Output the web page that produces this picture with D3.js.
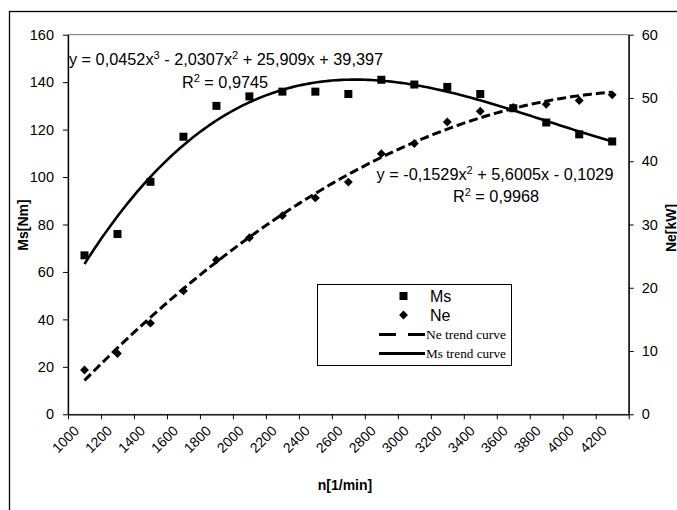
<!DOCTYPE html>
<html>
<head>
<meta charset="utf-8">
<script src="https://cdn.jsdelivr.net/npm/d3@7"></script>
<style>
  body { margin: 0; background: #fff; }
  text { font-family: "Liberation Sans", Arial, sans-serif; fill: #000; }
</style>
</head>
<body>
<div id="chart"></div>
<script>
// categories on the x axis (n, 1/min)
const nLabels = [1000, 1200, 1400, 1600, 1800, 2000, 2200, 2400, 2600, 2800, 3000, 3200, 3400, 3600, 3800, 4000, 4200];
// measured torque Ms [Nm], left axis
const msValues = [67, 76, 98, 117, 130, 134, 136, 136, 135, 141, 139, 138, 135, 129, 123, 118, 115];
// measured power Ne [kW], right axis
const neValues = [7.0, 9.6, 14.4, 19.5, 24.4, 27.9, 31.4, 34.2, 36.7, 41.2, 42.8, 46.2, 47.9, 48.5, 49.0, 49.6, 50.5];
// trend curve coefficients as printed on the chart (x = point index 1..17)
const msTrendCoef = [0.0452, -2.0307, 25.909, 39.397];
const neTrendCoef = [-0.1529, 5.6005, -0.1029];
const leftTicks = [0, 20, 40, 60, 80, 100, 120, 140, 160];
const rightTicks = [0, 10, 20, 30, 40, 50, 60];

const width = 677, height = 510;
const plot = {left: 68, right: 628.7, top: 34.7, bottom: 414.3};

let svg = d3.select("#chart")
    .append("svg")
    .attr("width", width)
    .attr("height", height);

// outer chart frame (runs past the picture on the right and bottom)
svg.append("rect")
    .attr("x", 9.5).attr("y", 11.5)
    .attr("width", 720).attr("height", 530)
    .attr("fill", "none").attr("stroke", "#000").attr("stroke-width", 1.3);

// plot area border
svg.append("rect")
    .attr("x", plot.left).attr("y", plot.top)
    .attr("width", plot.right - plot.left).attr("height", plot.bottom - plot.top)
    .attr("fill", "none").attr("stroke", "#555").attr("stroke-width", 0.8);

let x = d3.scaleLinear().domain([0, nLabels.length]).range([plot.left, plot.right]);
let yL = d3.scaleLinear().domain([0, 160]).range([plot.bottom, plot.top]);
let yR = d3.scaleLinear().domain([0, 60]).range([plot.bottom, plot.top]);

// x axis
let xAxis = svg.append("g")
    .attr("transform", `translate(0, ${plot.bottom})`)
    .call(d3.axisBottom(x)
        .tickValues(d3.range(0, nLabels.length + 1))
        .tickSize(5).tickSizeOuter(0)
        .tickFormat(i => i < nLabels.length ? nLabels[i] : ""));
xAxis.selectAll("text")
    .attr("text-anchor", "end")
    .attr("transform", "translate(8, 14) rotate(-45)")
    .attr("dy", "0.35em").attr("y", 0).attr("x", 0)
    .style("font-size", "14px");

// left axis
svg.append("g")
    .attr("transform", `translate(${plot.left}, 0)`)
    .call(d3.axisLeft(yL).tickValues(leftTicks).tickSize(5).tickSizeOuter(0).tickPadding(9))
    .selectAll("text").style("font-size", "14.5px");

// right axis
svg.append("g")
    .attr("transform", `translate(${plot.right}, 0)`)
    .call(d3.axisRight(yR).tickValues(rightTicks).tickSize(5).tickSizeOuter(0).tickPadding(8))
    .selectAll("text").style("font-size", "14.5px");

svg.selectAll(".domain").attr("stroke", "#000").attr("stroke-width", 1.3);
svg.selectAll(".tick line").attr("stroke", "#000").attr("stroke-width", 1);

// trend curves, drawn from the printed equations between the first and last point
function poly(coef, t) {
    return coef.reduce((acc, c) => acc * t + c, 0);
}
let tSteps = d3.range(1, nLabels.length + 0.001, 0.1);

svg.append("path")
    .datum(tSteps)
    .attr("fill", "none").attr("stroke", "#000").attr("stroke-width", 2.6)
    .attr("d", d3.line().x(t => x(t - 0.5)).y(t => yL(poly(msTrendCoef, t))));

svg.append("path")
    .datum(tSteps)
    .attr("fill", "none").attr("stroke", "#000").attr("stroke-width", 3)
    .attr("stroke-dasharray", "9,4")
    .attr("d", d3.line().x(t => x(t - 0.5)).y(t => yR(poly(neTrendCoef, t))));

// markers
svg.append("g").selectAll("rect")
    .data(msValues)
    .enter()
    .append("rect")
    .attr("x", (d, i) => x(i + 0.5) - 4)
    .attr("y", d => yL(d) - 4)
    .attr("width", 8).attr("height", 8)
    .attr("fill", "#000");

let diamond = d3.symbol().type(d3.symbolDiamond2).size(50);
svg.append("g").selectAll("path")
    .data(neValues)
    .enter()
    .append("path")
    .attr("d", diamond)
    .attr("transform", (d, i) => `translate(${x(i + 0.5)}, ${yR(d)})`)
    .attr("fill", "#000");

// equations (centered over their R² lines)
function equation(cx, cy, parts) {
    let t = svg.append("text").attr("x", cx).attr("y", cy)
        .attr("text-anchor", "middle").style("font-size", "16.3px");
    parts.forEach(p => {
        if (p.sup) t.append("tspan").attr("dy", -6).style("font-size", "11px").text(p.sup);
        else t.append("tspan").attr("dy", p.after ? 6 : 0).text(p.txt);
    });
}
equation(226, 65, [{txt: "y = 0,0452x"}, {sup: "3"}, {txt: " - 2,0307x", after: true}, {sup: "2"},
    {txt: " + 25,909x + 39,397", after: true}]);
equation(225, 88, [{txt: "R"}, {sup: "2"}, {txt: " = 0,9745", after: true}]);
equation(495, 180, [{txt: "y = -0,1529x"}, {sup: "2"}, {txt: " + 5,6005x - 0,1029", after: true}]);
equation(496, 202, [{txt: "R"}, {sup: "2"}, {txt: " = 0,9968", after: true}]);

// axis titles
svg.append("text")
    .attr("transform", "translate(28, 225) rotate(-90)")
    .attr("text-anchor", "middle")
    .style("font-size", "14px").style("font-weight", "bold")
    .text("Ms[Nm]");

svg.append("text")
    .attr("transform", "translate(675.5, 228) rotate(-90)")
    .attr("text-anchor", "middle")
    .style("font-size", "14px").style("font-weight", "bold")
    .text("Ne[kW]");

svg.append("text")
    .attr("x", 345).attr("y", 490)
    .attr("text-anchor", "middle")
    .style("font-size", "14px").style("font-weight", "bold")
    .text("n[1/min]");

// legend
let legend = svg.append("g");
legend.append("rect")
    .attr("x", 317.5).attr("y", 284.5).attr("width", 194).attr("height", 81)
    .attr("fill", "#fff").attr("stroke", "#000").attr("stroke-width", 1);
legend.append("rect").attr("x", 399.5).attr("y", 292).attr("width", 8).attr("height", 8).attr("fill", "#000");
legend.append("text").attr("x", 430).attr("y", 302).style("font-size", "16px").text("Ms");
legend.append("path").attr("d", diamond).attr("transform", "translate(403.5, 315)").attr("fill", "#000");
legend.append("text").attr("x", 430).attr("y", 321).style("font-size", "16px").text("Ne");
legend.append("line").attr("x1", 379).attr("x2", 425).attr("y1", 334.5).attr("y2", 334.5)
    .attr("stroke", "#000").attr("stroke-width", 3).attr("stroke-dasharray", "17,12");
legend.append("text").attr("x", 426).attr("y", 338.5)
    .attr("textLength", 80).attr("lengthAdjust", "spacingAndGlyphs")
    .style("font-family", "'Liberation Serif', 'Times New Roman', serif").style("font-size", "12px")
    .text("Ne trend curve");
legend.append("line").attr("x1", 379).attr("x2", 425).attr("y1", 353.5).attr("y2", 353.5)
    .attr("stroke", "#000").attr("stroke-width", 3);
legend.append("text").attr("x", 426).attr("y", 357.5)
    .attr("textLength", 80).attr("lengthAdjust", "spacingAndGlyphs")
    .style("font-family", "'Liberation Serif', 'Times New Roman', serif").style("font-size", "12px")
    .text("Ms trend curve");
</script>
</body>
</html>
